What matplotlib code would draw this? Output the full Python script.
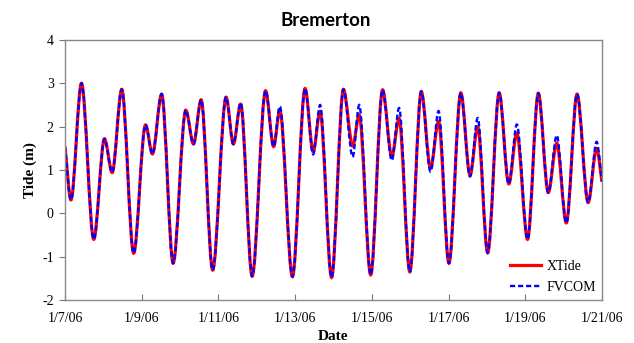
import matplotlib
matplotlib.use("Agg")
import matplotlib.pyplot as plt
from matplotlib.path import Path
from matplotlib.patches import PathPatch
from matplotlib.lines import Line2D

# turning points of the tide (days after 1/7/06 00:00)
ext_t = [0.0, 0.156, 0.43, 0.75, 1.03, 1.23, 1.48, 1.79, 2.10, 2.28,
         2.52, 2.82, 3.15, 3.35, 3.55, 3.85, 4.20, 4.39, 4.58, 4.88,
         5.23, 5.44, 5.60, 5.93, 6.26, 6.47, 6.65, 6.95, 7.26, 7.50,
         7.67, 7.97, 8.28, 8.52, 8.71, 8.99, 9.29, 9.53, 9.74, 10.01,
         10.32, 10.56, 10.76, 11.02, 11.32, 11.57, 11.78, 12.06, 12.34, 12.60,
         12.82, 13.07, 13.35, 13.64, 13.86, 14.0]

xtide = [1.54, 0.31, 3.00, -0.60, 1.72, 0.94, 2.86, -0.92, 2.04, 1.37,
         2.75, -1.15, 2.38, 1.60, 2.62, -1.31, 2.68, 1.60, 2.52, -1.45,
         2.83, 1.54, 2.38, -1.46, 2.88, 1.42, 2.35, -1.48, 2.86, 1.55,
         2.27, -1.42, 2.85, 1.31, 2.19, -1.35, 2.81, 1.04, 2.12, -1.15,
         2.78, 0.88, 2.00, -0.91, 2.78, 0.68, 1.85, -0.60, 2.77, 0.48,
         1.62, -0.22, 2.75, 0.25, 1.50, 0.73]

fvcom = [1.54, 0.31, 3.00, -0.60, 1.72, 0.94, 2.86, -0.92, 2.04, 1.37,
         2.75, -1.15, 2.38, 1.60, 2.62, -1.31, 2.68, 1.60, 2.55, -1.45,
         2.83, 1.54, 2.47, -1.46, 2.88, 1.36, 2.50, -1.48, 2.86, 1.30,
         2.50, -1.42, 2.85, 1.22, 2.43, -1.35, 2.81, 0.96, 2.36, -1.15,
         2.78, 0.85, 2.20, -0.91, 2.78, 0.68, 2.05, -0.60, 2.77, 0.48,
         1.80, -0.22, 2.75, 0.25, 1.65, 0.73]

tick_days = [0, 2, 4, 6, 8, 10, 12, 14]
tick_labels = ["1/7/06", "1/9/06", "1/11/06", "1/13/06", "1/15/06",
               "1/17/06", "1/19/06", "1/21/06"]


def tide_path(t, h):
    # smooth curve through the turning points (flat tangent at each high/low)
    n = len(t)
    verts = [(t[0], h[0])]
    codes = [Path.MOVETO]
    for i in range(n - 1):
        dt = t[i + 1] - t[i]
        c1 = h[i] if i > 0 else h[i] + (h[i + 1] - h[i]) / 3
        c2 = h[i + 1] if i + 1 < n - 1 else h[i + 1] - (h[i + 1] - h[i]) / 3
        verts += [(t[i] + dt / 3, c1), (t[i + 1] - dt / 3, c2), (t[i + 1], h[i + 1])]
        codes += [Path.CURVE4] * 3
    return Path(verts, codes)


serif = "Liberation Serif"

fig = plt.figure(figsize=(6.34, 3.43), dpi=100)
ax = fig.add_axes([0.1025, 0.1254, 0.847, 0.758])

ax.add_patch(PathPatch(tide_path(ext_t, xtide), fill=False, edgecolor="#ff0000",
                       lw=2.3, capstyle="butt"))
ax.add_patch(PathPatch(tide_path(ext_t, fvcom), fill=False, edgecolor="#0000ff",
                       lw=1.7, linestyle=(0, (2.2, 1.2))))

ax.set_xlim(0, 14)
ax.set_ylim(-2, 4)
ax.set_xticks(tick_days)
ax.set_xticklabels(tick_labels, fontfamily=serif, fontsize=10)
ax.set_yticks(range(-2, 5))
ax.set_yticklabels([str(v) for v in range(-2, 5)], fontfamily=serif, fontsize=10)
ax.tick_params(axis="x", direction="in", length=4, color="#777777", pad=9)
ax.tick_params(axis="y", direction="out", length=4, color="#777777", pad=4)
for s in ax.spines.values():
    s.set_color("#888888")
    s.set_linewidth(1.0)

ax.set_xlabel("Date", fontfamily=serif, fontsize=11, fontweight="bold", labelpad=3)
ax.set_ylabel("Tide (m)", fontfamily=serif, fontsize=11, fontweight="bold", labelpad=4)
fig.suptitle("Bremerton", x=0.513, y=0.965, fontfamily="Lato", fontsize=13.5,
             fontweight="bold")

handles = [Line2D([], [], color="#ff0000", lw=2.3),
           Line2D([], [], color="#0000ff", lw=1.7, linestyle=(0, (2.2, 1.2)))]
ax.legend(handles, ["XTide", "FVCOM"], loc="lower right", bbox_to_anchor=(1.012, -0.025),
          frameon=False, prop={"family": serif, "size": 10}, handlelength=2.2,
          handletextpad=0.4, labelspacing=0.55)

fig.savefig("out.png", dpi=100)
